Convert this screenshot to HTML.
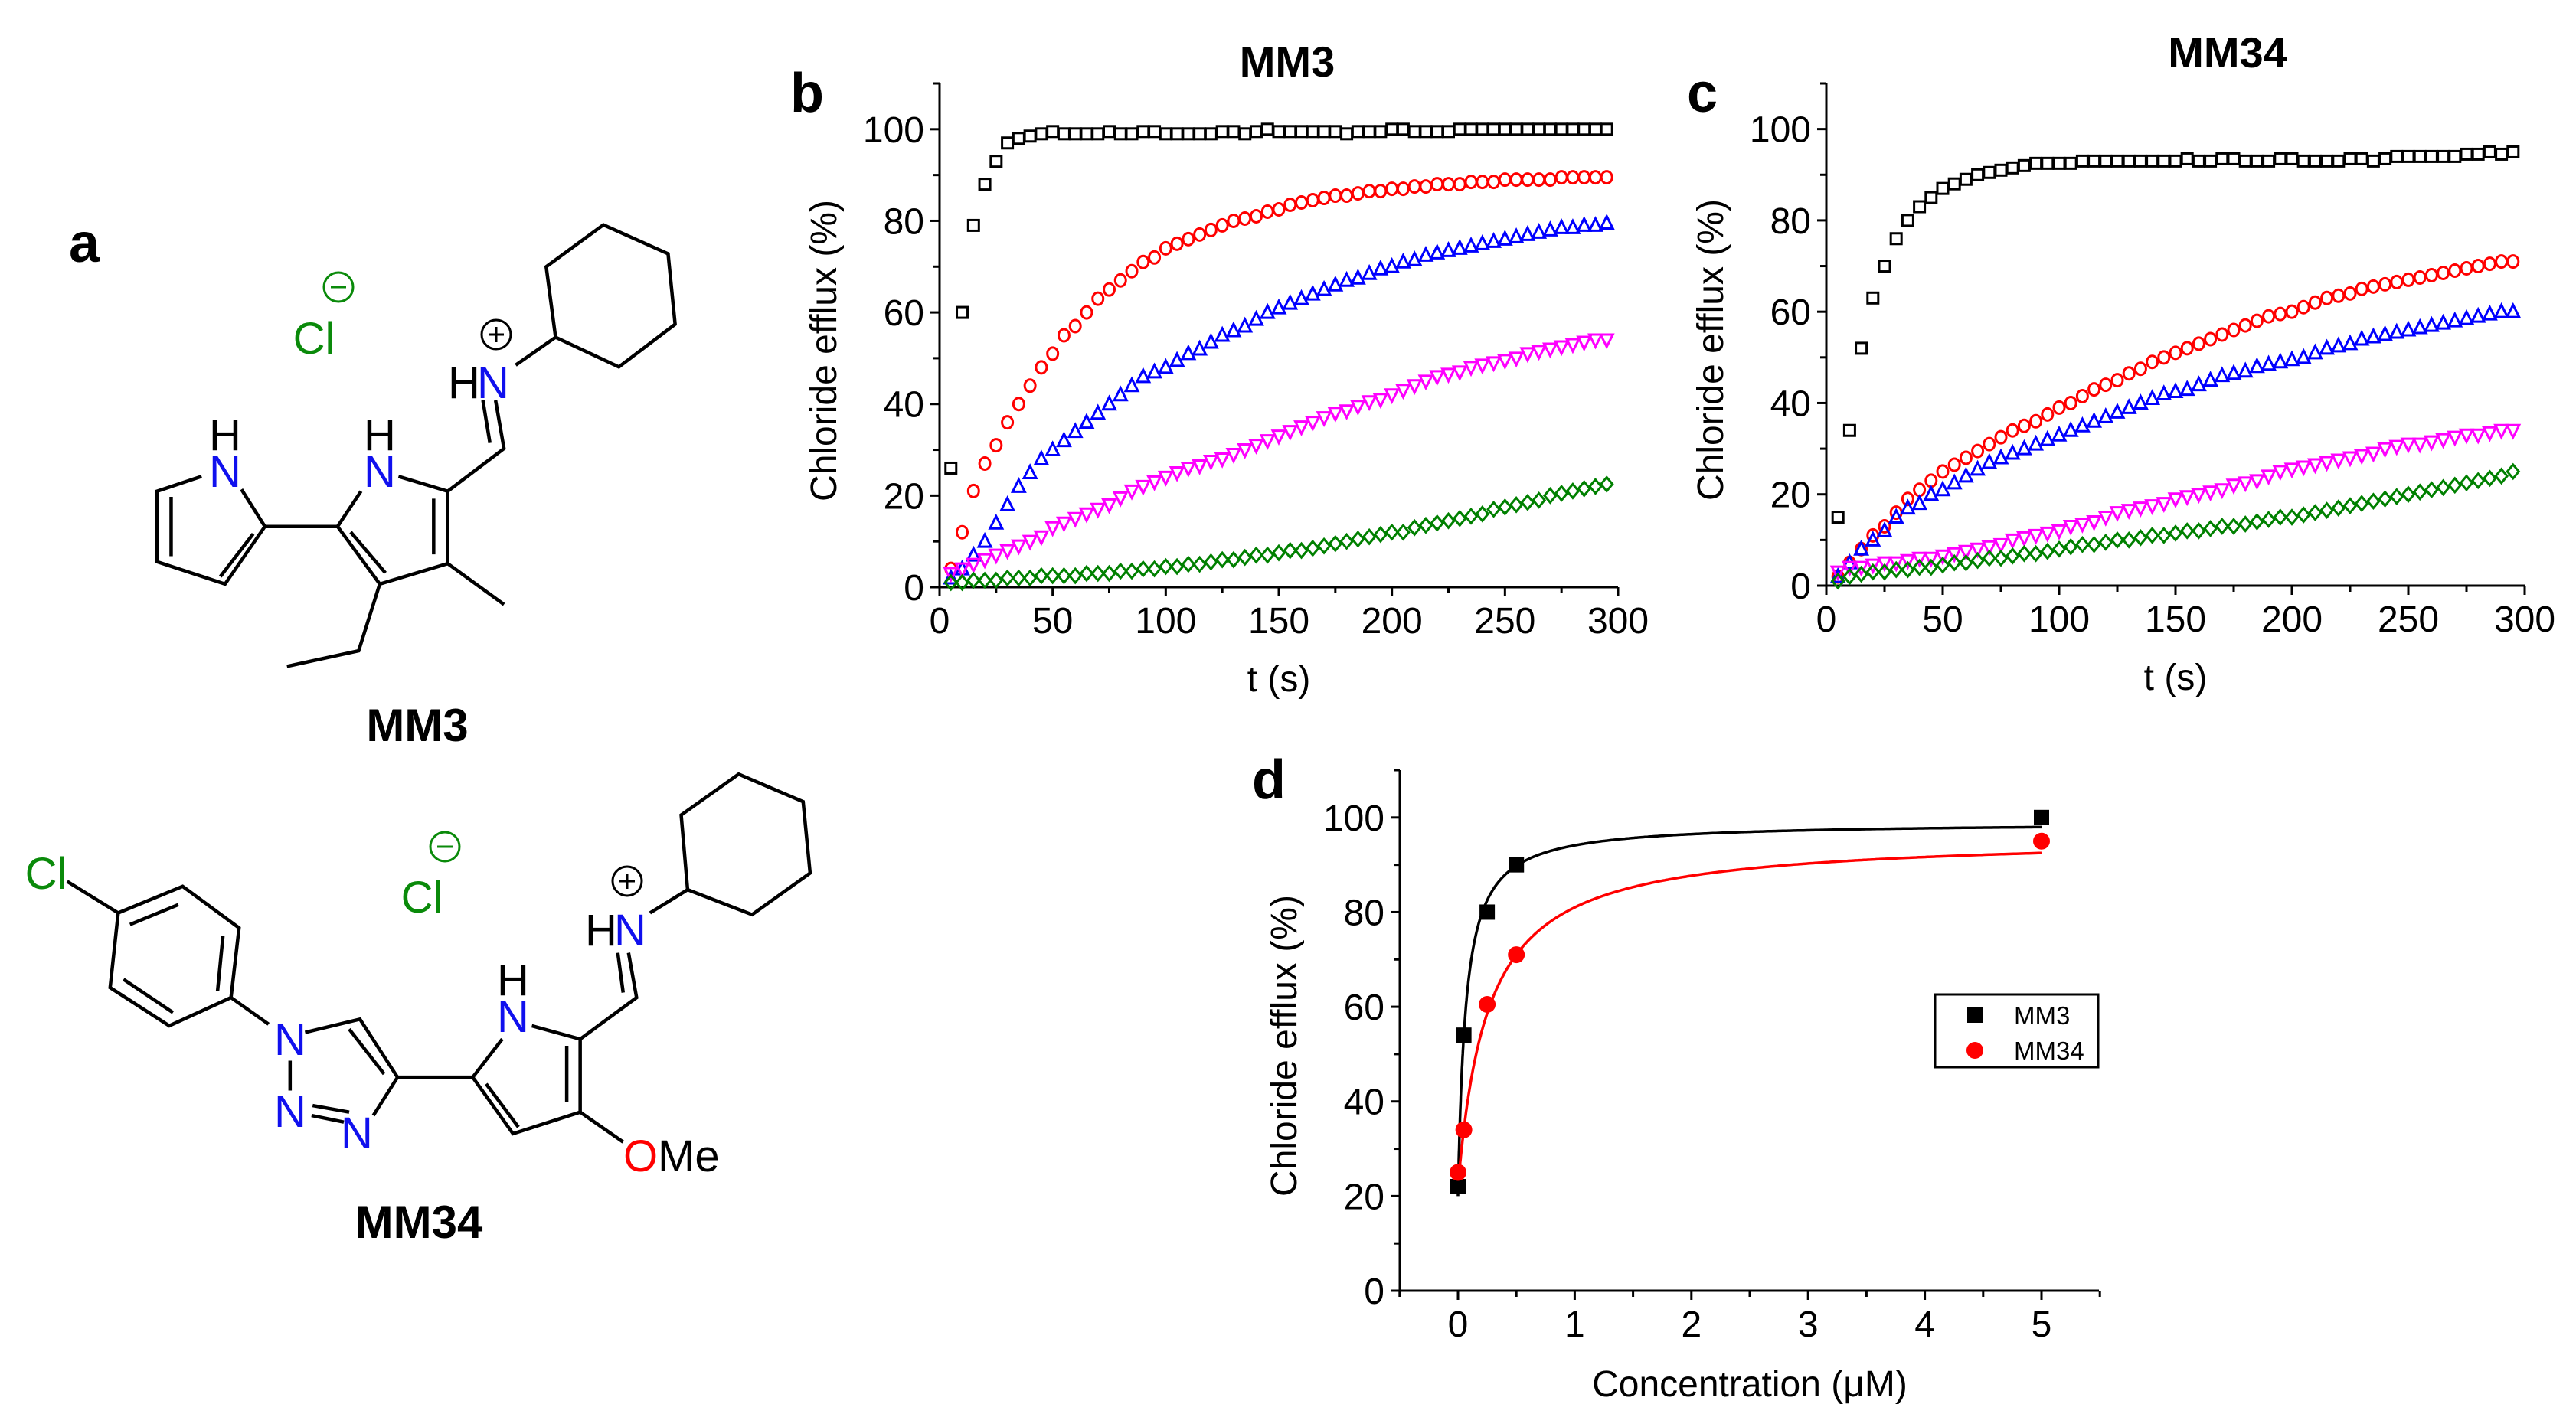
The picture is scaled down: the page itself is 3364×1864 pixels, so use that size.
<!DOCTYPE html>
<html><head><meta charset="utf-8">
<style>
html,body{margin:0;padding:0;background:#fff;}
svg{display:block;font-family:"Liberation Sans",Arial,sans-serif;}
</style></head>
<body>
<svg id="fig" width="3364" height="1864" viewBox="0 0 3364 1864" xmlns="http://www.w3.org/2000/svg">
<rect width="3364" height="1864" fill="#fff"/>

<!-- Panel a: MM3 structure -->
<g>
<text x="110" y="342" font-size="72" font-weight="bold" text-anchor="middle">a</text>
<svg x="0" y="220" width="960" height="760" viewBox="0 0 1568 1568" preserveAspectRatio="none">
<g stroke="#000" stroke-width="4.5" fill="none" vector-effect="non-scaling-stroke">
<polyline vector-effect="non-scaling-stroke" points="515,865 565,965 480,1120 335,1060 335,870 430,830"/>
<line vector-effect="non-scaling-stroke" x1="365" y1="885" x2="365" y2="1045"/>
<line vector-effect="non-scaling-stroke" x1="540" y1="985" x2="470" y2="1100"/>
<line vector-effect="non-scaling-stroke" x1="565" y1="965" x2="720" y2="965"/>
<polyline vector-effect="non-scaling-stroke" points="770,870 720,965 810,1120 955,1065 955,870 850,830"/>
<line vector-effect="non-scaling-stroke" x1="748" y1="980" x2="822" y2="1090"/>
<line vector-effect="non-scaling-stroke" x1="925" y1="890" x2="925" y2="1040"/>
<line vector-effect="non-scaling-stroke" x1="955" y1="1065" x2="1075" y2="1175"/>
<polyline vector-effect="non-scaling-stroke" points="810,1120 765,1300 612,1342"/>
<polyline vector-effect="non-scaling-stroke" points="955,870 1075,755 1057,625"/>
<line vector-effect="non-scaling-stroke" x1="1045" y1="740" x2="1030" y2="625"/>
<line vector-effect="non-scaling-stroke" x1="1100" y1="530" x2="1185" y2="455"/>
<polygon vector-effect="non-scaling-stroke" points="1185,455 1165,265 1287,152 1425,230 1440,420 1320,535"/>
</g>
</svg>
<text x="410" y="462" font-size="58" fill="#0a8a0a" text-anchor="middle">Cl</text>
<circle cx="442" cy="375" r="19" fill="none" stroke="#0a8a0a" stroke-width="3"/>
<line x1="432" y1="375" x2="452" y2="375" stroke="#0a8a0a" stroke-width="3"/>
<text x="606" y="520" font-size="58" text-anchor="middle">H</text>
<text x="644" y="520" font-size="58" fill="#1010ee" text-anchor="middle">N</text>
<circle cx="648" cy="437" r="19" fill="none" stroke="#000" stroke-width="3"/>
<line x1="638" y1="437" x2="658" y2="437" stroke="#000" stroke-width="3"/><line x1="648" y1="427" x2="648" y2="447" stroke="#000" stroke-width="3"/>
<text x="294" y="588" font-size="58" text-anchor="middle">H</text>
<text x="294" y="636" font-size="58" fill="#1010ee" text-anchor="middle">N</text>
<text x="496" y="588" font-size="58" text-anchor="middle">H</text>
<text x="496" y="636" font-size="58" fill="#1010ee" text-anchor="middle">N</text>
<text x="545" y="968" font-size="60" font-weight="bold" text-anchor="middle">MM3</text>
</g>

<!-- MM34 structure -->
<g>
<svg x="0" y="980" width="1100" height="680" viewBox="0 0 1568 1568" preserveAspectRatio="none">
<g stroke="#000" stroke-width="4.5" fill="none">
<line vector-effect="non-scaling-stroke" x1="125" y1="395" x2="220" y2="490"/>
<polygon vector-effect="non-scaling-stroke" points="220,490 340,410 445,535 430,745 315,830 205,715"/>
<line vector-effect="non-scaling-stroke" x1="242" y1="525" x2="332" y2="465"/>
<line vector-effect="non-scaling-stroke" x1="415" y1="560" x2="405" y2="725"/>
<line vector-effect="non-scaling-stroke" x1="230" y1="690" x2="322" y2="790"/>
<line vector-effect="non-scaling-stroke" x1="430" y1="745" x2="500" y2="825"/>
<polyline vector-effect="non-scaling-stroke" points="568,850 670,810 740,985 695,1100"/>
<line vector-effect="non-scaling-stroke" x1="650" y1="840" x2="715" y2="975"/>
<line vector-effect="non-scaling-stroke" x1="540" y1="935" x2="540" y2="1025"/>
<line vector-effect="non-scaling-stroke" x1="582" y1="1070" x2="650" y2="1090"/>
<line vector-effect="non-scaling-stroke" x1="580" y1="1100" x2="640" y2="1120"/>
<line vector-effect="non-scaling-stroke" x1="740" y1="985" x2="880" y2="985"/>
<polyline vector-effect="non-scaling-stroke" points="935,870 880,985 955,1155 1080,1090 1080,870 990,830"/>
<line vector-effect="non-scaling-stroke" x1="905" y1="1005" x2="965" y2="1135"/>
<line vector-effect="non-scaling-stroke" x1="1055" y1="890" x2="1055" y2="1060"/>
<line vector-effect="non-scaling-stroke" x1="1080" y1="1090" x2="1160" y2="1180"/>
<polyline vector-effect="non-scaling-stroke" points="1080,870 1185,745 1170,610"/>
<line vector-effect="non-scaling-stroke" x1="1160" y1="730" x2="1150" y2="610"/>
<line vector-effect="non-scaling-stroke" x1="1210" y1="490" x2="1280" y2="420"/>
<polygon vector-effect="non-scaling-stroke" points="1280,420 1268,195 1375,72 1495,155 1508,370 1400,495"/>
</g>
</svg>
<text x="60" y="1161" font-size="58" fill="#0a8a0a" text-anchor="middle">Cl</text>
<text x="551" y="1192" font-size="58" fill="#0a8a0a" text-anchor="middle">Cl</text>
<circle cx="581" cy="1106" r="19" fill="none" stroke="#0a8a0a" stroke-width="3"/>
<line x1="571" y1="1106" x2="591" y2="1106" stroke="#0a8a0a" stroke-width="3"/>
<text x="785" y="1235" font-size="58" text-anchor="middle">H</text>
<text x="823" y="1235" font-size="58" fill="#1010ee" text-anchor="middle">N</text>
<circle cx="819" cy="1151" r="19" fill="none" stroke="#000" stroke-width="3"/>
<line x1="809" y1="1151" x2="829" y2="1151" stroke="#000" stroke-width="3"/><line x1="819" y1="1141" x2="819" y2="1161" stroke="#000" stroke-width="3"/>
<text x="670" y="1300" font-size="58" text-anchor="middle">H</text>
<text x="670" y="1348" font-size="58" fill="#1010ee" text-anchor="middle">N</text>
<text x="379" y="1378" font-size="58" fill="#1010ee" text-anchor="middle">N</text>
<text x="379" y="1472" font-size="58" fill="#1010ee" text-anchor="middle">N</text>
<text x="466" y="1500" font-size="58" fill="#1010ee" text-anchor="middle">N</text>
<text x="814" y="1530" font-size="58" fill="#ff0000">O</text>
<text x="859" y="1530" font-size="58">Me</text>
<text x="547" y="1617" font-size="60" font-weight="bold" text-anchor="middle">MM34</text>
</g>

<g id="charts"></g>
</svg>

<script>
// ---- Shared time points (s) ----
const times = [5,10,15,20,25,30,35,40,45,50,55,60,65,70,75,80,85,90,95,100,105,110,115,120,125,130,135,140,145,150,155,160,165,170,175,180,185,190,195,200,205,210,215,220,225,230,235,240,245,250,255,260,265,270,275,280,285,290,295];

// ---- Panel b (MM3) ----
const bBlack = [26,60,79,88,93,97,98,98.5,99,99.5,99,99,99,99,99.5,99,99,99.5,99.5,99,99,99,99,99,99.5,99.5,99,99.5,100,99.5,99.5,99.5,99.5,99.5,99.5,99,99.5,99.5,99.5,100,100,99.5,99.5,99.5,99.5,100,100,100,100,100,100,100,100,100,100,100,100,100,100];
const bRed = [4,12,21,27,31,36,40,44,48,51,55,57,60,63,65,67,69,71,72,74,75,76,77,78,79,80,80.5,81,82,82.5,83.5,84,84.5,85,85.5,85.5,86,86.5,86.5,87,87,87.5,87.5,88,88,88,88.5,88.5,88.5,89,89,89,89,89,89.5,89.5,89.5,89.5,89.5];
const bBlue = [2,4,7,10,14,18,22,25,28,30,32,34,36,38,40,42,44,46,47,48,49.5,51,52,53.5,55,56,57,58.5,60,61,62,63,64,65,66,67,67.5,68.5,69.5,70,71,71.5,72.5,73,73.5,74,74.5,75,75.5,76,76.5,77,77.5,78,78.5,78.5,79,79,79.5];
const bMagenta = [3,4,5,6,7,8,9,10,11,13,14,15,16,17,18,19.5,21,22,23,24,25,26,26.5,27.5,28,29,30,31,32,33,34,35,36,37,38,38.5,39.5,40.5,41,42,43,44,45,46,46.5,47,48,48.5,49,49.5,50,51,51.5,52,52.5,53,53.5,54,54];
const bGreen = [1,1,1.5,1.5,1.5,2,2,2,2.5,2.5,2.5,2.5,3,3,3,3.5,3.5,4,4,4.5,4.5,5,5,5.5,6,6,6.5,7,7,7.5,8,8,8.5,9,9.5,10,10.5,11,11.5,12,12,13,13.5,14,14.5,15,15.5,16,17,17.5,18,18.5,19,20,20.5,21,21.5,22,22.5];

// ---- Panel c (MM34) ----
const cBlack = [15,34,52,63,70,76,80,83,85,87,88,89,90,90.5,91,91.5,92,92.5,92.5,92.5,92.5,93,93,93,93,93,93,93,93,93,93.5,93,93,93.5,93.5,93,93,93,93.5,93.5,93,93,93,93,93.5,93.5,93,93.5,94,94,94,94,94,94,94.5,94.5,95,94.5,95];
const cRed = [2,5,8,11,13,16,19,21,23,25,26.5,28,29.5,31,32.5,34,35,36,37.5,39,40,41.5,43,44,45,46.5,47.5,49,50,51,52,53,54,55,56,57,58,59,59.5,60,61,62,63,63.5,64,65,65.5,66,66.5,67,67.5,68,68.5,69,69.5,70,70.5,71,71];
const cBlue = [2,5,8,10,12,15,17,18,20,21,22.5,24,25.5,27,28,29,30,31,32,33,34,35,36,37,38,39,40,41,42,42.5,43,44,45,46,46.5,47,48,48.5,49,49.5,50,51,52,52.5,53,54,54.5,55,55.5,56,56.5,57,57.5,58,58.5,59,59.5,60,60];
const cMagenta = [3,4,4,4.5,5,5,5.5,6,6,6.5,7,7.5,8,8.5,9,10,10.5,11,11.5,12,13,13.5,14,15,16,16.5,17,17.5,18,19,19.5,20,20.5,21,22,22.5,23,24,25,25.5,26,26.5,27,27.5,28,28.5,29,30,30.5,31,31,31.5,32,32.5,33,33,33.5,34,34];
const cGreen = [1,2,2.5,3,3,3.5,3.5,4,4,4.5,5,5,5.5,6,6,6.5,7,7,7.5,8,8.5,9,9,9.5,10,10,10.5,11,11,11.5,12,12,12.5,13,13,13.5,14,14.5,15,15,15.5,16,16.5,17,17.5,18,18.5,19,19.5,20,20.5,21,21.5,22,22.5,23,23.5,24,25];

// ---- Panel d ----
const concs = [0,0.05,0.25,0.5,5];
const dMM3 = [22,54,80,90,100];
const dMM34 = [25,34,60.5,71,95];
const fitMM3 = [20,79,0.066];   // y0, A, K
const fitMM34 = [22,74.1,0.256];
const tickTime = [0,50,100,150,200,250,300];
const tickPct = [0,20,40,60,80,100];
const tickConc = [0,1,2,3,4,5];

const NS = "http://www.w3.org/2000/svg";
const root = document.getElementById('charts');
function el(tag, attrs, parent){
  const e = document.createElementNS(NS, tag);
  for (const k in attrs) e.setAttribute(k, attrs[k]);
  (parent||root).appendChild(e);
  return e;
}

function axes(g, P, sx, sy, xTicks, xMinor, yMinorStep, yMax){
  el('line',{x1:P.x0,y1:P.y0,x2:P.x1,y2:P.y0,stroke:'#000','stroke-width':3},g);
  el('line',{x1:P.x0,y1:P.y0,x2:P.x0,y2:P.yTop,stroke:'#000','stroke-width':3},g);
  for (const v of xMinor){
    el('line',{x1:sx(v),y1:P.y0,x2:sx(v),y2:P.y0+(xTicks.includes(v)?12:8),stroke:'#000','stroke-width':3},g);
  }
  for (const v of xTicks){
    const t = el('text',{x:sx(v),y:P.y0+60,'font-size':48,'text-anchor':'middle'},g);
    t.textContent = v;
  }
  for (let v=0; v<=yMax; v+=yMinorStep){
    const major = tickPct.includes(v);
    el('line',{x1:P.x0-(major?12:8),y1:sy(v),x2:P.x0,y2:sy(v),stroke:'#000','stroke-width':3},g);
  }
  for (const v of tickPct){
    const t = el('text',{x:P.x0-20,y:sy(v)+17,'font-size':48,'text-anchor':'end'},g);
    t.textContent = v;
  }
}

function marker(g, type, x, y, color){
  const s = 7;
  if (type==='square') el('rect',{x:x-s,y:y-s,width:2*s,height:2*s,fill:'none',stroke:color,'stroke-width':3},g);
  else if (type==='circle') el('ellipse',{cx:x,cy:y,rx:7,ry:8,fill:'none',stroke:color,'stroke-width':3},g);
  else if (type==='up') el('polygon',{points:`${x},${y-9} ${x+8},${y+7} ${x-8},${y+7}`,fill:'none',stroke:color,'stroke-width':3},g);
  else if (type==='down') el('polygon',{points:`${x},${y+9} ${x+8},${y-7} ${x-8},${y-7}`,fill:'none',stroke:color,'stroke-width':3},g);
  else if (type==='diamond') el('polygon',{points:`${x},${y-9} ${x+7.5},${y} ${x},${y+9} ${x-7.5},${y}`,fill:'none',stroke:color,'stroke-width':3},g);
}

function timePanel(name, P, series, letter, title, lp, tp){
  const g = el('g',{});
  
  
  const sx = v => P.x0 + (v/300)*(P.x1-P.x0);
  const sy = v => P.y0 - (v/110)*(P.y0-P.yTop);
  const minor = []; for (let v=0; v<=300; v+=25) minor.push(v);
  axes(g, P, sx, sy, tickTime, minor, 10, 110);
  const colors = ['#000','#ff0000','#0000ff','#ff00ff','#008000'];
  const types = ['square','circle','up','down','diamond'];
  series.forEach((arr, si) => {
    const sg = el('g',{},g);
    
    
    for (let i=0;i<arr.length && i<times.length;i++) marker(sg, types[si], sx(times[i]), sy(arr[i]), colors[si]);
  });
  const L = el('text',{x:lp[0],y:lp[1],'font-size':72,'font-weight':'bold','text-anchor':'middle'},g);
  
  
  L.textContent = letter;
  const T = el('text',{x:tp[0],y:tp[1],'font-size':56,'font-weight':'bold','text-anchor':'middle'},g);
  
  
  T.textContent = title;
  const xt = el('text',{x:(P.x0+P.x1)/2,y:P.y0+136,'font-size':48,'text-anchor':'middle'},g);
  
  
  xt.textContent = 't (s)';
  const cy = (P.y0+P.yTop)/2+20;
  const yt = el('text',{x:P.x0-135,y:cy,'font-size':48,'text-anchor':'middle',transform:`rotate(-90 ${P.x0-135} ${cy})`},g);
  
  
  yt.textContent = 'Chloride efflux (%)';
}

timePanel('chart-b-mm3', {x0:1227,x1:2113,y0:767,yTop:109}, [bBlack,bRed,bBlue,bMagenta,bGreen], 'b', 'MM3', [1054,146], [1681,100]);
timePanel('chart-c-mm34', {x0:2385,x1:3297,y0:765,yTop:109}, [cBlack,cRed,cBlue,cMagenta,cGreen], 'c', 'MM34', [2223,146], [2909,88]);

// Panel d
(function(){
  const P = {x0:1828,x1:2741,y0:1686,yTop:1006};
  const g = el('g',{});
  
  
  const sx = v => 1904 + v*(2666-1904)/5;
  const sy = v => P.y0 - (v/110)*(P.y0-P.yTop);
  const minor = []; for (let v=-0.5; v<=5.5; v+=0.5) minor.push(v);
  axes(g, P, sx, sy, tickConc, minor, 10, 110);
  const fits = [[fitMM3,'#000'],[fitMM34,'#ff0000']];
  fits.forEach(([f,c],i)=>{
    let d='';
    for (let k=0;k<=500;k++){ const x = 5*Math.pow(k/500,2.2); const y = f[0]+f[1]*x/(f[2]+x); d += (k?'L':'M')+sx(x).toFixed(1)+','+sy(y).toFixed(1); }
    const p = el('path',{d:d,fill:'none',stroke:c,'stroke-width':3.5},g);
    
    
  });
  concs.forEach((x,i)=>{
    const r = el('rect',{x:sx(x)-10,y:sy(dMM3[i])-10,width:20,height:20,fill:'#000'},g);
    
    
  });
  concs.forEach((x,i)=>{
    const c = el('circle',{cx:sx(x),cy:sy(dMM34[i]),r:11,fill:'#ff0000'},g);
    
    
  });
  const L = el('text',{x:1657,y:1043,'font-size':72,'font-weight':'bold','text-anchor':'middle'},g);
  
  
  L.textContent = 'd';
  const xt = el('text',{x:2285,y:1824,'font-size':48,'text-anchor':'middle'},g);
  
  
  xt.textContent = 'Concentration (\u03BCM)';
  const cy = (P.y0+P.yTop)/2+20;
  const yt = el('text',{x:1693,y:cy,'font-size':48,'text-anchor':'middle',transform:`rotate(-90 1693 ${cy})`},g);
  
  
  yt.textContent = 'Chloride efflux (%)';
  const lg = el('g',{},g);
  
  
  el('rect',{x:2527,y:1299,width:213,height:95,fill:'#fff',stroke:'#000','stroke-width':3},lg);
  el('rect',{x:2569,y:1316,width:20,height:20,fill:'#000'},lg);
  el('circle',{cx:2579,cy:1372,r:11,fill:'#ff0000'},lg);
  const t1 = el('text',{x:2630,y:1338,'font-size':33},lg);
  
  
  t1.textContent = 'MM3';
  const t2 = el('text',{x:2630,y:1384,'font-size':33},lg);
  
  
  t2.textContent = 'MM34';
})();
</script>
</body></html>
